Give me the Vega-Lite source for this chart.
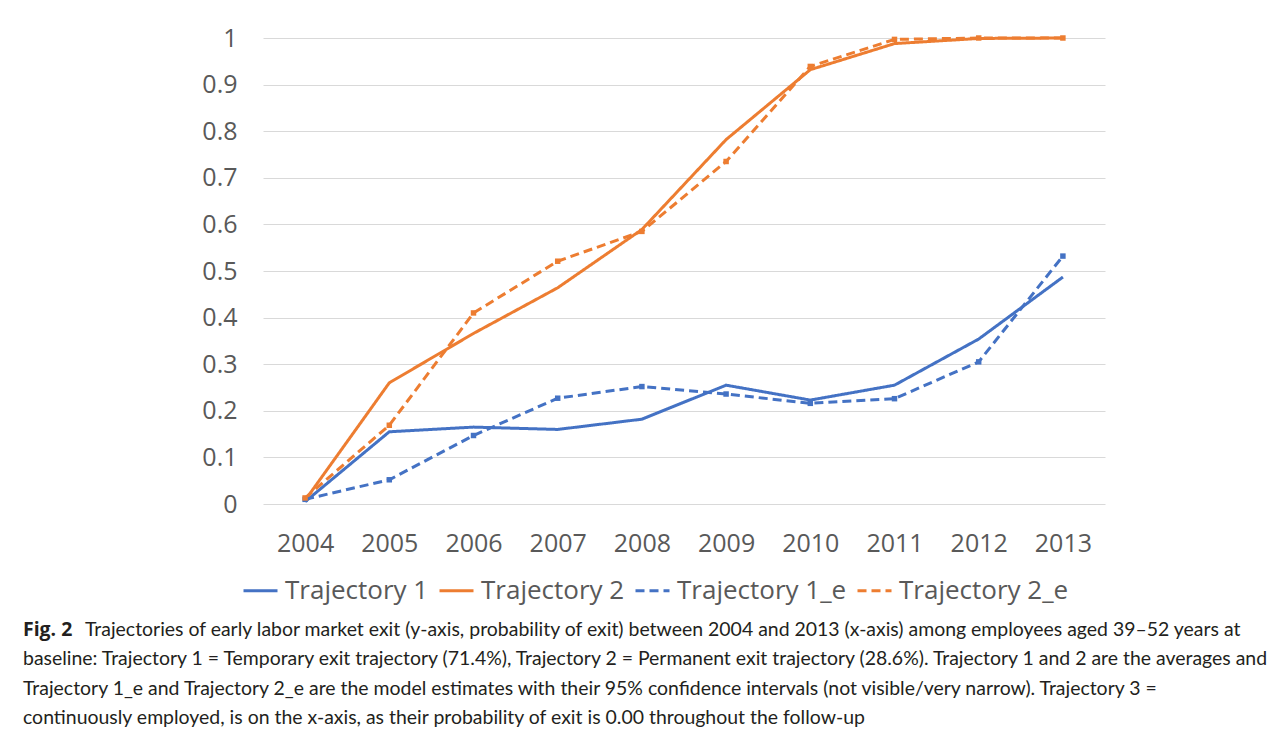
{
  "$schema": "https://vega.github.io/schema/vega-lite/v6.json",
  "background": "white",
  "padding": {"left": 12, "top": 26, "right": 5, "bottom": 5},
  "config": {"view": {"stroke": null}, "font": "Open Sans"},
  "spacing": 11,
  "resolve": {"legend": {"color": "independent", "strokeDash": "independent"}},
  "datasets": {
    "series": [
      {"year": "2004", "series": "Trajectory 1", "p": 0.005},
      {"year": "2005", "series": "Trajectory 1", "p": 0.155},
      {"year": "2006", "series": "Trajectory 1", "p": 0.165},
      {"year": "2007", "series": "Trajectory 1", "p": 0.160},
      {"year": "2008", "series": "Trajectory 1", "p": 0.182},
      {"year": "2009", "series": "Trajectory 1", "p": 0.255},
      {"year": "2010", "series": "Trajectory 1", "p": 0.223},
      {"year": "2011", "series": "Trajectory 1", "p": 0.255},
      {"year": "2012", "series": "Trajectory 1", "p": 0.354},
      {"year": "2013", "series": "Trajectory 1", "p": 0.487},
      {"year": "2004", "series": "Trajectory 2", "p": 0.008},
      {"year": "2005", "series": "Trajectory 2", "p": 0.260},
      {"year": "2006", "series": "Trajectory 2", "p": 0.366},
      {"year": "2007", "series": "Trajectory 2", "p": 0.464},
      {"year": "2008", "series": "Trajectory 2", "p": 0.589},
      {"year": "2009", "series": "Trajectory 2", "p": 0.782},
      {"year": "2010", "series": "Trajectory 2", "p": 0.932},
      {"year": "2011", "series": "Trajectory 2", "p": 0.988},
      {"year": "2012", "series": "Trajectory 2", "p": 0.999},
      {"year": "2013", "series": "Trajectory 2", "p": 1.0},
      {"year": "2004", "series": "Trajectory 1_e", "p": 0.010},
      {"year": "2005", "series": "Trajectory 1_e", "p": 0.052},
      {"year": "2006", "series": "Trajectory 1_e", "p": 0.147},
      {"year": "2007", "series": "Trajectory 1_e", "p": 0.227},
      {"year": "2008", "series": "Trajectory 1_e", "p": 0.252},
      {"year": "2009", "series": "Trajectory 1_e", "p": 0.236},
      {"year": "2010", "series": "Trajectory 1_e", "p": 0.216},
      {"year": "2011", "series": "Trajectory 1_e", "p": 0.226},
      {"year": "2012", "series": "Trajectory 1_e", "p": 0.305},
      {"year": "2013", "series": "Trajectory 1_e", "p": 0.532},
      {"year": "2004", "series": "Trajectory 2_e", "p": 0.013},
      {"year": "2005", "series": "Trajectory 2_e", "p": 0.169},
      {"year": "2006", "series": "Trajectory 2_e", "p": 0.410},
      {"year": "2007", "series": "Trajectory 2_e", "p": 0.521},
      {"year": "2008", "series": "Trajectory 2_e", "p": 0.585},
      {"year": "2009", "series": "Trajectory 2_e", "p": 0.735},
      {"year": "2010", "series": "Trajectory 2_e", "p": 0.939},
      {"year": "2011", "series": "Trajectory 2_e", "p": 0.997},
      {"year": "2012", "series": "Trajectory 2_e", "p": 1.0},
      {"year": "2013", "series": "Trajectory 2_e", "p": 1.0}
    ],
    "caption": [
      {"line": 1, "part": "bold", "text": "Fig. 2"},
      {"line": 1, "part": "rest", "text": "Trajectories of early labor market exit (y-axis, probability of exit) between 2004 and 2013 (x-axis) among employees aged 39–52 years at"},
      {"line": 2, "part": "normal", "text": "baseline: Trajectory 1 = Temporary exit trajectory (71.4%), Trajectory 2 = Permanent exit trajectory (28.6%). Trajectory 1 and 2 are the averages and"},
      {"line": 3, "part": "normal", "text": "Trajectory 1_e and Trajectory 2_e are the model estimates with their 95% confidence intervals (not visible/very narrow). Trajectory 3 ="},
      {"line": 4, "part": "normal", "text": "continuously employed, is on the x-axis, as their probability of exit is 0.00 throughout the follow-up"}
    ]
  },
  "vconcat": [
    {
      "width": 842,
      "height": 466,
      "data": {"name": "series"},
      "encoding": {
        "x": {
          "field": "year", "type": "ordinal",
          "axis": {"title": null, "labelAngle": 0, "ticks": false, "domain": false, "labelPadding": 27, "labelFontSize": 25, "labelColor": "#595959", "labelFont": "Open Sans"}
        },
        "y": {
          "field": "p", "type": "quantitative",
          "scale": {"domain": [0, 1]},
          "axis": {"title": null, "values": [0, 0.1, 0.2, 0.3, 0.4, 0.5, 0.6, 0.7, 0.8, 0.9, 1], "format": "~g", "ticks": false, "domain": false, "labelPadding": 26, "labelFontSize": 25, "labelColor": "#595959", "labelFont": "Open Sans", "gridColor": "#d9d9d9", "gridWidth": 1.2, "minExtent": 251}
        },
        "color": {
          "field": "series", "type": "nominal",
          "scale": {"domain": ["Trajectory 1", "Trajectory 2", "Trajectory 1_e", "Trajectory 2_e"], "range": ["#4472C4", "#ED7D31", "#4472C4", "#ED7D31"]},
          "legend": {"title": null, "orient": "none", "legendX": -21, "legendY": 534, "direction": "horizontal", "symbolType": "stroke", "symbolSize": 1156, "symbolStrokeWidth": 3, "labelFontSize": 26, "labelColor": "#595959", "labelFont": "Open Sans", "labelLimit": 400, "columnPadding": 4, "labelOffset": 6}
        },
        "strokeDash": {
          "field": "series", "type": "nominal",
          "scale": {"domain": ["Trajectory 1", "Trajectory 2", "Trajectory 1_e", "Trajectory 2_e"], "range": [[1, 0], [1, 0], [9, 5], [9, 5]]},
          "legend": {"title": null, "orient": "none", "legendX": -21, "legendY": 534, "direction": "horizontal", "symbolType": "stroke", "symbolSize": 1156, "symbolStrokeWidth": 3, "labelFontSize": 26, "labelColor": "#595959", "labelFont": "Open Sans", "labelLimit": 400, "columnPadding": 4, "labelOffset": 6}
        }
      },
      "layer": [
        {"mark": {"type": "line", "strokeWidth": 3}},
        {
          "transform": [{"filter": "indexof(datum.series, '_e') >= 0"}],
          "mark": {"type": "point", "shape": "square", "filled": true, "size": 30, "opacity": 1}
        }
      ]
    },
    {
      "width": 842,
      "height": 118,
      "data": {"name": "caption"},
      "encoding": {
        "y": {"field": "line", "type": "ordinal", "axis": null, "scale": {"paddingInner": 0, "paddingOuter": 0}},
        "x": {"value": -240},
        "text": {"field": "text"}
      },
      "layer": [
        {
          "transform": [{"filter": "datum.part == 'bold'"}],
          "mark": {"type": "text", "align": "left", "baseline": "middle", "font": "Open Sans", "fontSize": 19.45, "fontWeight": "bold", "color": "#231f20"}
        },
        {
          "transform": [{"filter": "datum.part == 'rest'"}],
          "mark": {"type": "text", "align": "left", "baseline": "middle", "font": "Lato", "fontSize": 19.45, "color": "#231f20", "dx": 62}
        },
        {
          "transform": [{"filter": "datum.part == 'normal'"}],
          "mark": {"type": "text", "align": "left", "baseline": "middle", "font": "Lato", "fontSize": 19.45, "color": "#231f20"}
        }
      ]
    }
  ]
}
